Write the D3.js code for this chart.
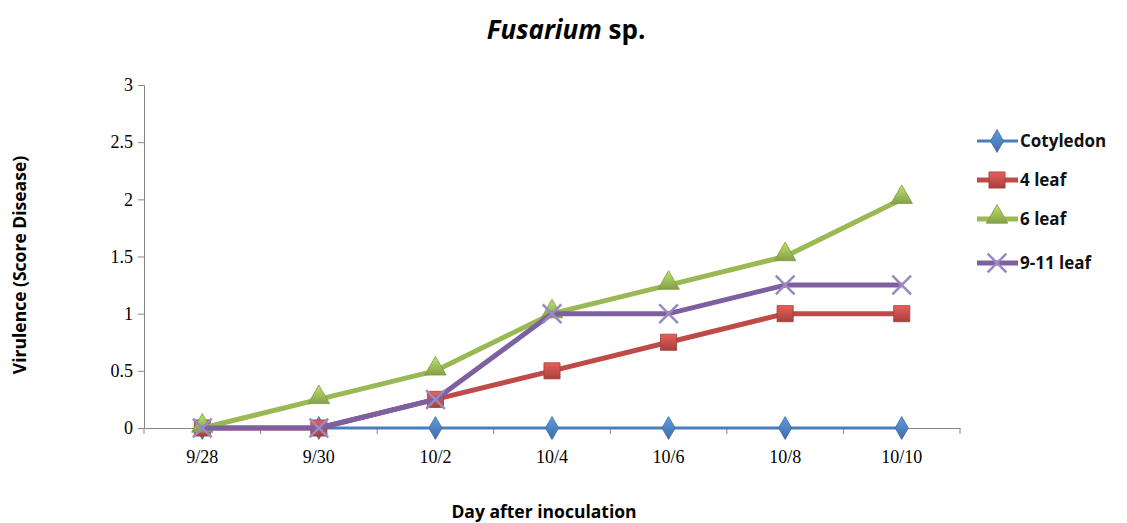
<!DOCTYPE html>
<html>
<head>
<meta charset="utf-8">
<script src="https://cdn.jsdelivr.net/npm/d3@7"></script>
<style>
  body { margin: 0; background: #fff; }
  svg { display: block; }
</style>
</head>
<body>
<div id="chart"></div>
<script>
// Chart data
const days = ['9/28', '9/30', '10/2', '10/4', '10/6', '10/8', '10/10'];
const seriesNames = ['Cotyledon', '4 leaf', '6 leaf', '9-11 leaf'];
const cotyledon = [0, 0, 0, 0, 0, 0, 0];
const leaf4 = [0, 0, 0.25, 0.5, 0.75, 1, 1];
const leaf6 = [0, 0.25, 0.5, 1, 1.25, 1.5, 2];
const leaf911 = [0, 0, 0.25, 1, 1, 1.25, 1.25];
const yTicks = [0, 0.5, 1, 1.5, 2, 2.5, 3];

const width = 1127;
const height = 523;
const plot = { left: 144, right: 960, top: 85, bottom: 428 };

const series = [
    { name: seriesNames[0], values: cotyledon, color: '#4a7ebb', marker: 'diamond', width: 3 },
    { name: seriesNames[1], values: leaf4, color: '#be4b48', marker: 'square', width: 5 },
    { name: seriesNames[2], values: leaf6, color: '#98b954', marker: 'triangle', width: 5 },
    { name: seriesNames[3], values: leaf911, color: '#7d60a0', marker: 'cross', width: 5 },
];

const svg = d3.select('#chart').append('svg')
    .attr('width', width)
    .attr('height', height);

// Gradient fills for the glossy markers
const defs = svg.append('defs');
series.forEach((s, i) => {
    const g = defs.append('linearGradient')
        .attr('id', 'grad' + i)
        .attr('x1', 0).attr('y1', 0).attr('x2', 0).attr('y2', 1);
    g.append('stop').attr('offset', '0%').attr('stop-color', d3.color(s.color).brighter(0.6));
    g.append('stop').attr('offset', '100%').attr('stop-color', d3.color(s.color).darker(0.4));
});

const xScale = d3.scaleBand()
    .domain(days)
    .range([plot.left, plot.right]);

const yScale = d3.scaleLinear()
    .domain([0, 3])
    .range([plot.bottom, plot.top]);

// Y axis
const yAxis = svg.append('g')
    .attr('transform', `translate(${plot.left},0)`)
    .call(d3.axisLeft(yScale).tickValues(yTicks).tickSize(6).tickPadding(5).tickFormat(d => d));
yAxis.select('.domain').attr('stroke', '#868686');
yAxis.selectAll('.tick line').attr('stroke', '#868686');
yAxis.selectAll('.tick text')
    .attr('font-family', 'Liberation Serif, serif')
    .attr('font-size', 18)
    .attr('fill', '#000');

// X axis: ticks sit between categories
const xAxis = svg.append('g')
    .attr('transform', `translate(0,${plot.bottom})`)
    .call(d3.axisBottom(xScale).tickSize(0).tickPadding(22));
xAxis.select('.domain').attr('stroke', '#868686');
xAxis.selectAll('.tick text')
    .attr('font-family', 'Liberation Serif, serif')
    .attr('font-size', 18)
    .attr('fill', '#000');
xAxis.selectAll('.boundary')
    .data(d3.range(days.length + 1))
    .join('line')
    .attr('x1', i => plot.left + i * xScale.bandwidth())
    .attr('x2', i => plot.left + i * xScale.bandwidth())
    .attr('y1', 0)
    .attr('y2', 6)
    .attr('stroke', '#868686');

const cx = d => xScale(d) + xScale.bandwidth() / 2;

const symbols = {
    diamond: d3.symbol().type(d3.symbolDiamond).size(150),
    square: d3.symbol().type(d3.symbolSquare).size(260),
    triangle: d3.symbol().type(d3.symbolTriangle).size(200),
    cross: d3.symbol().type(d3.symbolX).size(230),
};

function drawMarker(g, s, i, x, y) {
    if (s.marker === 'cross') {
        g.append('path')
            .attr('d', symbols.cross())
            .attr('transform', `translate(${x},${y})`)
            .attr('fill', 'none')
            .attr('stroke', '#9a88c0')
            .attr('stroke-width', 2.5);
    } else {
        const dy = s.marker === 'triangle' ? -2 : 0;
        g.append('path')
            .attr('d', symbols[s.marker]())
            .attr('transform', `translate(${x},${y + dy})`)
            .attr('fill', `url(#grad${i})`)
            .attr('stroke', d3.color(s.color).darker(0.5))
            .attr('stroke-width', 0.8);
    }
}

// Lines and markers
const line = d3.line()
    .x((d, i) => cx(days[i]))
    .y(d => yScale(d));

series.forEach((s, i) => {
    const g = svg.append('g');
    g.append('path')
        .datum(s.values)
        .attr('fill', 'none')
        .attr('stroke', s.color)
        .attr('stroke-width', s.width)
        .attr('stroke-linejoin', 'round')
        .attr('d', line);
    s.values.forEach((v, j) => drawMarker(g, s, i, cx(days[j]), yScale(v)));
});

// Legend
const legendY = [141, 180, 219, 263];
const legend = svg.append('g');
series.forEach((s, i) => {
    const g = legend.append('g');
    g.append('line')
        .attr('x1', 977).attr('x2', 1018)
        .attr('y1', legendY[i]).attr('y2', legendY[i])
        .attr('stroke', s.color)
        .attr('stroke-width', s.width);
    drawMarker(g, s, i, 997, legendY[i]);
    g.append('text')
        .attr('x', 1020)
        .attr('y', legendY[i])
        .attr('dy', '0.35em')
        .attr('font-family', 'Open Sans, sans-serif')
        .attr('font-weight', 'bold')
        .attr('font-size', 17)
        .attr('fill', '#111')
        .text(s.name);
});

// Title
const title = svg.append('text')
    .attr('x', 566)
    .attr('y', 39)
    .attr('text-anchor', 'middle')
    .attr('font-family', 'Open Sans, sans-serif')
    .attr('font-weight', 'bold')
    .attr('font-size', 26)
    .attr('fill', '#000');
title.append('tspan').attr('font-style', 'italic').text('Fusarium');
title.append('tspan').text(' sp.');

// Axis titles
svg.append('text')
    .attr('x', 544)
    .attr('y', 518)
    .attr('text-anchor', 'middle')
    .attr('font-family', 'Open Sans, sans-serif')
    .attr('font-weight', 'bold')
    .attr('font-size', 17.5)
    .attr('fill', '#000')
    .text('Day after inoculation');

svg.append('text')
    .attr('transform', 'translate(26,265) rotate(-90)')
    .attr('text-anchor', 'middle')
    .attr('font-family', 'Open Sans, sans-serif')
    .attr('font-weight', 'bold')
    .attr('font-size', 17.5)
    .attr('fill', '#000')
    .text('Virulence (Score Disease)');
</script>
</body>
</html>
